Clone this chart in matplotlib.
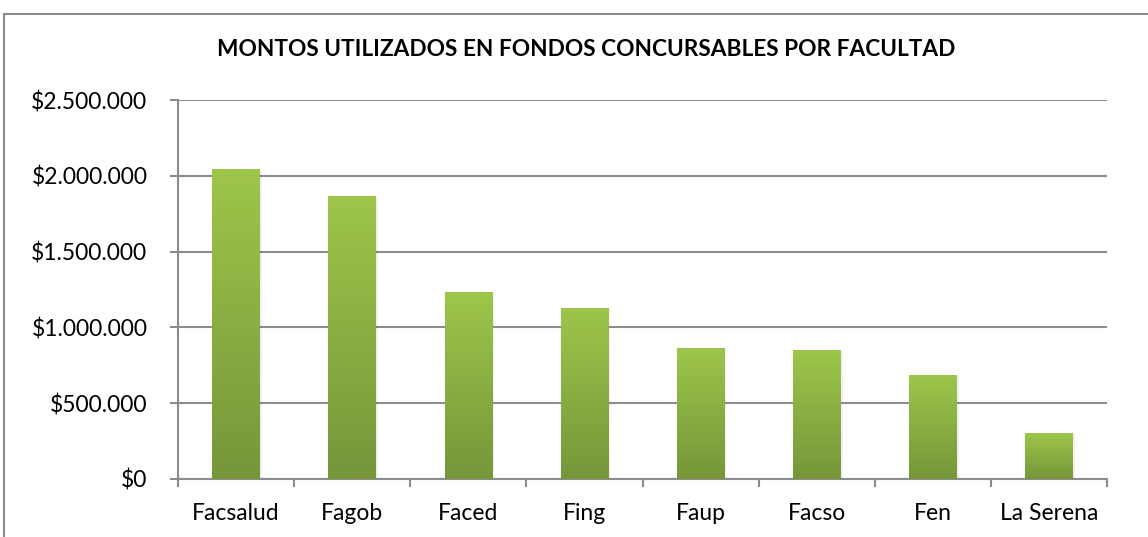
import numpy as np
import matplotlib
matplotlib.use("Agg")
import matplotlib.pyplot as plt
from matplotlib.colors import LinearSegmentedColormap
from matplotlib.patches import Rectangle
from matplotlib.ticker import FuncFormatter, FixedLocator

categories = ["Facsalud", "Fagob", "Faced", "Fing", "Faup", "Facso", "Fen", "La Serena"]
values = [2039000, 1862000, 1230000, 1125000, 862000, 849000, 684000, 303000]
yticks = [0, 500000, 1000000, 1500000, 2000000, 2500000]
title = "MONTOS UTILIZADOS EN FONDOS CONCURSABLES POR FACULTAD"

plt.rcParams['font.family'] = ['Lato', 'DejaVu Sans']

W, H = 1148, 537
fig = plt.figure(figsize=(W / 100, H / 100), dpi=100)
fig.patch.set_facecolor("white")

# outer frame
fig.add_artist(Rectangle((4 / W, -0.1), 1.2, (H - 13.5) / H + 0.1, transform=fig.transFigure,
                         fill=False, edgecolor="#8c8c8c", linewidth=1.5))

ax = fig.add_axes([178 / W, (H - 479) / H, (1107 - 178) / W, (479 - 100) / H])
x = np.arange(len(categories))
bars = ax.bar(x, values, width=0.41, color="none", edgecolor="none", zorder=3)

cmap = LinearSegmentedColormap.from_list("g", ["#76963a", "#9dc64a"])
grad = np.linspace(0, 1, 256).reshape(-1, 1)
for b in bars:
    x0, w, h = b.get_x(), b.get_width(), b.get_height()
    # soft shadow
    ax.add_patch(Rectangle((x0 + 0.008, 0), w + 0.01, h - 8000, facecolor="#000000",
                           alpha=0.06, edgecolor="none", zorder=2))
    ax.imshow(grad, extent=(x0, x0 + w, 0, h), origin="lower", cmap=cmap,
              aspect="auto", zorder=3, interpolation="bilinear")

ax.set_xlim(-0.5, len(categories) - 0.5)
ax.set_ylim(0, 2500000)
ax.set_yticks(yticks)
ax.yaxis.set_major_formatter(FuncFormatter(lambda v, p: "$" + f"{int(v):,}".replace(",", ".")))
ax.set_xticks(x)
ax.set_xticklabels(categories)
ax.xaxis.set_minor_locator(FixedLocator(np.arange(-0.5, len(categories), 1.0)))
ax.tick_params(axis="x", which="major", length=0, pad=17, labelsize=16.5, colors="black")
ax.tick_params(axis="x", which="minor", length=6, width=1.5, color="#8c8c8c", direction="out")
ax.tick_params(axis="y", length=6, width=1.5, color="#8c8c8c", pad=16, labelsize=16.5, labelcolor="black")

ax.grid(axis="y", color="#8c8c8c", linewidth=1.5, zorder=0)
ax.set_axisbelow(True)
for s in ["top", "right"]:
    ax.spines[s].set_visible(False)
for s in ["left", "bottom"]:
    ax.spines[s].set_color("#8c8c8c")
    ax.spines[s].set_linewidth(1.5)

fig.text((217 + 955) / 2 / W, 1 - 49 / H, title, ha="center", va="center",
         fontsize=16.3, fontweight="bold", color="black")

fig.savefig("out.png", dpi=100)
